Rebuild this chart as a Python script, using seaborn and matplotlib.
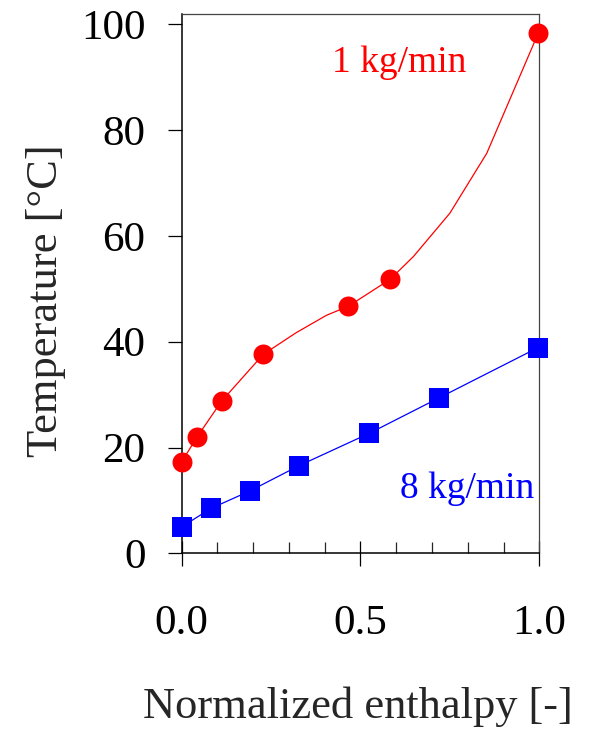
import matplotlib
matplotlib.use("Agg")
import matplotlib.pyplot as plt
import seaborn as sns
import pandas as pd
from matplotlib.ticker import MultipleLocator

# ---- data ----
red_x = [0.0, 0.043, 0.112, 0.228, 0.466, 0.583, 0.997]
red_y = [17.3, 22.0, 28.8, 37.6, 46.7, 51.8, 98.3]
red_curve_x = [0.0, 0.043, 0.112, 0.228, 0.32, 0.405, 0.466, 0.583, 0.648, 0.750, 0.853, 0.997]
red_curve_y = [17.3, 22.0, 28.8, 37.6, 41.7, 45.0, 46.7, 51.8, 56.1, 64.3, 75.6, 98.3]
blue_x = [0.0, 0.082, 0.191, 0.329, 0.525, 0.720, 0.997]
blue_y = [5.0, 8.5, 11.8, 16.6, 22.7, 29.4, 38.9]
x_ticks = [0.0, 0.5, 1.0]
x_ticklabels = ["0.0", "0.5", "1.0"]
y_ticks = [0, 20, 40, 60, 80, 100]
label_red = "1 kg/min"
label_blue = "8 kg/min"
xlabel = "Normalized enthalpy [-]"
ylabel = "Temperature [°C]"

sns.set_theme(style="white")
plt.rcParams["font.family"] = ["Liberation Serif", "DejaVu Serif"]
plt.rcParams["mathtext.fontset"] = "stix"

fig = plt.figure(figsize=(5.93, 7.3), dpi=100)
ax = fig.add_axes([0.3064, 0.242, 0.603, 0.7392])

red_curve = pd.DataFrame({"x": red_curve_x, "y": red_curve_y})
red_pts = pd.DataFrame({"x": red_x, "y": red_y})
blue_pts = pd.DataFrame({"x": blue_x, "y": blue_y})

sns.lineplot(data=red_curve, x="x", y="y", ax=ax, color="#ff0000", lw=0.9,
             sort=False, estimator=None)
sns.lineplot(data=blue_pts, x="x", y="y", ax=ax, color="#0000ff", lw=0.9,
             sort=False, estimator=None)
sns.scatterplot(data=red_pts, x="x", y="y", ax=ax, color="#ff0000", marker="o",
                s=207, linewidth=0, zorder=5, clip_on=False)
sns.scatterplot(data=blue_pts, x="x", y="y", ax=ax, color="#0000ff", marker="s",
                s=207, linewidth=0, zorder=5, clip_on=False)

ax.set_xlim(0, 1)
ax.set_ylim(0, 102)
ax.set_xticks(x_ticks)
ax.set_xticklabels(x_ticklabels)
ax.set_yticks(y_ticks)
ax.xaxis.set_minor_locator(MultipleLocator(0.1))

ax.tick_params(axis="y", which="major", direction="out", length=10, width=0.9,
               pad=16, labelsize=31, colors="black", left=True)
ax.tick_params(axis="x", which="major", direction="inout", length=18, width=0.9,
               pad=28, labelsize=31, colors="black", bottom=True)
ax.tick_params(axis="x", which="minor", direction="in", length=8, width=0.9,
               bottom=True)
ax.tick_params(top=False, right=False)

for side in ["left", "bottom"]:
    ax.spines[side].set_color("black")
    ax.spines[side].set_linewidth(1.1)
for side in ["top", "right"]:
    ax.spines[side].set_color("#444444")
    ax.spines[side].set_linewidth(0.9)

ax.set_xlabel(xlabel, fontsize=32, va="baseline")
ax.xaxis.set_label_coords(0.493, -0.305)
ax.set_ylabel(ylabel, fontsize=32, va="center")
ax.yaxis.set_label_coords(-0.379, 0.468)

ax.text(0.419, 91.0, label_red, color="#ff0000", fontsize=27, ha="left", va="baseline")
ax.text(0.610, 10.5, label_blue, color="#0000ff", fontsize=27, ha="left", va="baseline")

fig.savefig("out.png", dpi=100, facecolor="white")
